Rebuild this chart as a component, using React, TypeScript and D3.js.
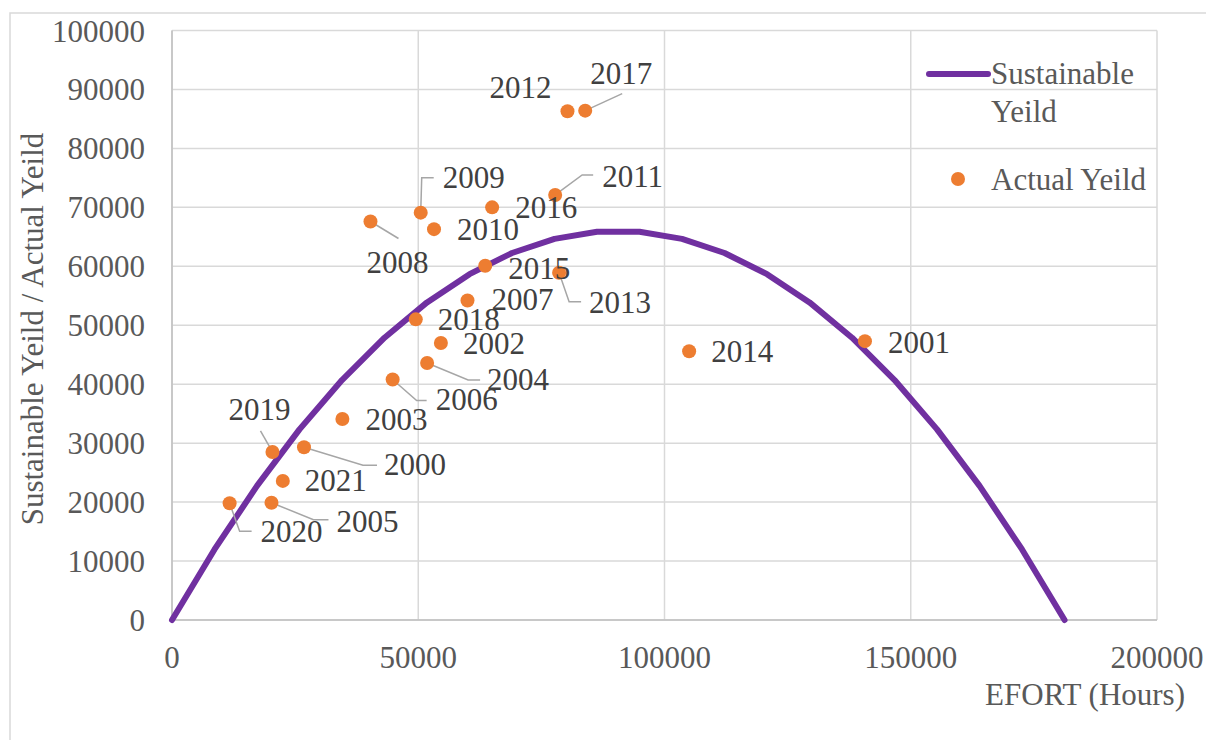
import React from "react";
import * as d3 from "d3";

// Sustainable yield curve (effort in hours, yield)
const curveEffort = [0, 8630, 17260, 25890, 34520, 43150, 51780, 60410, 69040, 77670, 86300, 94930, 103560, 112190, 120820, 129450, 138080, 146710, 155340, 163970, 172600, 181230];
const curveYield = [0, 11970, 22750, 32330, 40710, 47890, 53880, 58670, 62260, 64650, 65850, 65850, 64650, 62260, 58670, 53880, 47890, 40710, 32330, 22750, 11970, 0];

// Actual yield points
const years = ["2000", "2001", "2002", "2003", "2004", "2005", "2006", "2007", "2008", "2009", "2010", "2011", "2012", "2013", "2014", "2015", "2016", "2017", "2018", "2019", "2020", "2021"];
const actualEffort = [26800, 140700, 54600, 34600, 51800, 20200, 44800, 60000, 40300, 50500, 53200, 77800, 80300, 78600, 105000, 63600, 65000, 83900, 49500, 20400, 11700, 22500];
const actualYield = [29300, 47300, 47000, 34100, 43600, 19900, 40800, 54200, 67600, 69100, 66300, 72100, 86300, 58900, 45600, 60100, 70000, 86400, 51000, 28500, 19800, 23600];

const xTicks = [0, 50000, 100000, 150000, 200000];
const yTicks = [0, 10000, 20000, 30000, 40000, 50000, 60000, 70000, 80000, 90000, 100000];

// label layout: offset of label (left, baseline) from point, and leader polyline offsets
const labelLayout: Record<string, { dx: number; dy: number; anchor?: string; leader?: [number, number][] }> = {
  "2000": { dx: 80, dy: 28, leader: [[0, 0], [59, 18], [73, 18]] },
  "2001": { dx: 23, dy: 12 },
  "2002": { dx: 22, dy: 11 },
  "2003": { dx: 23, dy: 11 },
  "2004": { dx: 60, dy: 27, leader: [[0, 0], [41, 17], [53, 17]] },
  "2005": { dx: 65, dy: 29, leader: [[0, 0], [42, 17], [57, 17]] },
  "2006": { dx: 43, dy: 31, leader: [[0, 0], [24, 21], [34, 21]] },
  "2007": { dx: 24, dy: 10 },
  "2008": { dx: -4, dy: 52, leader: [[0, 0], [28, 17]] },
  "2009": { dx: 22, dy: -25, leader: [[0, 0], [1, -35], [13, -35]] },
  "2010": { dx: 23, dy: 11 },
  "2011": { dx: 47, dy: -8, leader: [[0, 0], [27, -20], [38, -20]] },
  "2012": { dx: -16, dy: -13, anchor: "end" },
  "2013": { dx: 30, dy: 40, leader: [[0, 0], [10, 29], [22, 29]] },
  "2014": { dx: 22, dy: 11 },
  "2015": { dx: 23, dy: 13 },
  "2016": { dx: 23, dy: 11 },
  "2017": { dx: 5, dy: -27, leader: [[0, 0], [37, -17]] },
  "2018": { dx: 22, dy: 11 },
  "2019": { dx: -44, dy: -32, leader: [[0, 0], [-12, -21]] },
  "2020": { dx: 31, dy: 39, leader: [[0, 0], [10, 28], [22, 28]] },
  "2021": { dx: 22, dy: 10 },
};

const FONT = "'Liberation Serif', 'Times New Roman', serif";
const PURPLE = "#7030A0";
const ORANGE = "#ED7D31";
const GRID = "#D9D9D9";
const AXIS_TEXT = "#595959";
const LABEL_TEXT = "#404040";

export default function App() {
  const left = 172, right = 1157, top = 30.5, bottom = 620;
  const x = d3.scaleLinear().domain([0, 200000]).range([left, right]);
  const y = d3.scaleLinear().domain([0, 100000]).range([bottom, top]);

  const curve = curveEffort.map((e, i) => [e, curveYield[i]] as [number, number]);
  const line = d3.line<[number, number]>().x((d) => x(d[0])).y((d) => y(d[1]));

  return (
    <svg width={1206} height={740} style={{ position: "absolute", left: 0, top: 0, background: "#fff" }} fontFamily={FONT}>
      <rect x={0} y={0} width={1206} height={740} fill="#fff" />
      <rect x={10} y={13} width={1220} height={760} fill="none" stroke={GRID} strokeWidth={1.5} />
      {/* grid */}
      {yTicks.map((t) => (
        <line key={"gy" + t} x1={left} x2={right} y1={y(t)} y2={y(t)} stroke={GRID} strokeWidth={1.5} />
      ))}
      {xTicks.map((t) => (
        <line key={"gx" + t} x1={x(t)} x2={x(t)} y1={top} y2={bottom} stroke={GRID} strokeWidth={1.5} />
      ))}
      <line x1={left} x2={left} y1={top} y2={bottom} stroke="#BFBFBF" strokeWidth={1.5} />
      <line x1={left} x2={right} y1={bottom} y2={bottom} stroke="#BFBFBF" strokeWidth={1.5} />
      {/* y tick labels */}
      {yTicks.map((t) => (
        <text key={"ty" + t} x={145} y={y(t) + 11} textAnchor="end" fontSize={31} fill={AXIS_TEXT}>
          {t}
        </text>
      ))}
      {xTicks.map((t) => (
        <text key={"tx" + t} x={x(t)} y={668} textAnchor="middle" fontSize={31} fill={AXIS_TEXT}>
          {t}
        </text>
      ))}
      {/* axis titles */}
      <text x={1185} y={705} textAnchor="end" fontSize={31} fill={AXIS_TEXT}>
        EFORT (Hours)
      </text>
      <text transform="translate(43,329) rotate(-90)" textAnchor="middle" fontSize={31} fill={AXIS_TEXT}>
        Sustainable Yeild / Actual Yeild
      </text>
      {/* curve */}
      <path d={line(curve) || ""} fill="none" stroke={PURPLE} strokeWidth={6} strokeLinejoin="round" strokeLinecap="round" />
      {/* leader lines */}
      {years.map((yr, i) => {
        const L = labelLayout[yr];
        if (!L.leader) return null;
        const px = x(actualEffort[i]);
        const py = y(actualYield[i]);
        const pts = L.leader.map(([a, b]) => `${px + a},${py + b}`).join(" ");
        return <polyline key={"ld" + yr} points={pts} fill="none" stroke="#A6A6A6" strokeWidth={1.5} />;
      })}
      {/* points */}
      {years.map((yr, i) => (
        <circle key={"pt" + yr} cx={x(actualEffort[i])} cy={y(actualYield[i])} r={7} fill={ORANGE} />
      ))}
      {/* labels */}
      {years.map((yr, i) => {
        const L = labelLayout[yr];
        return (
          <text key={"lb" + yr} x={x(actualEffort[i]) + L.dx} y={y(actualYield[i]) + L.dy} textAnchor={L.anchor || "start"} fontSize={31} fill={LABEL_TEXT}>
            {yr}
          </text>
        );
      })}
      {/* legend */}
      <line x1={929} x2={988} y1={74} y2={74} stroke={PURPLE} strokeWidth={6} strokeLinecap="round" />
      <text x={991} y={84} fontSize={31} fill={AXIS_TEXT}>Sustainable</text>
      <text x={991} y={122} fontSize={31} fill={AXIS_TEXT}>Yeild</text>
      <circle cx={958} cy={179} r={7} fill={ORANGE} />
      <text x={991} y={190} fontSize={31} fill={AXIS_TEXT}>Actual Yeild</text>
    </svg>
  );
}
